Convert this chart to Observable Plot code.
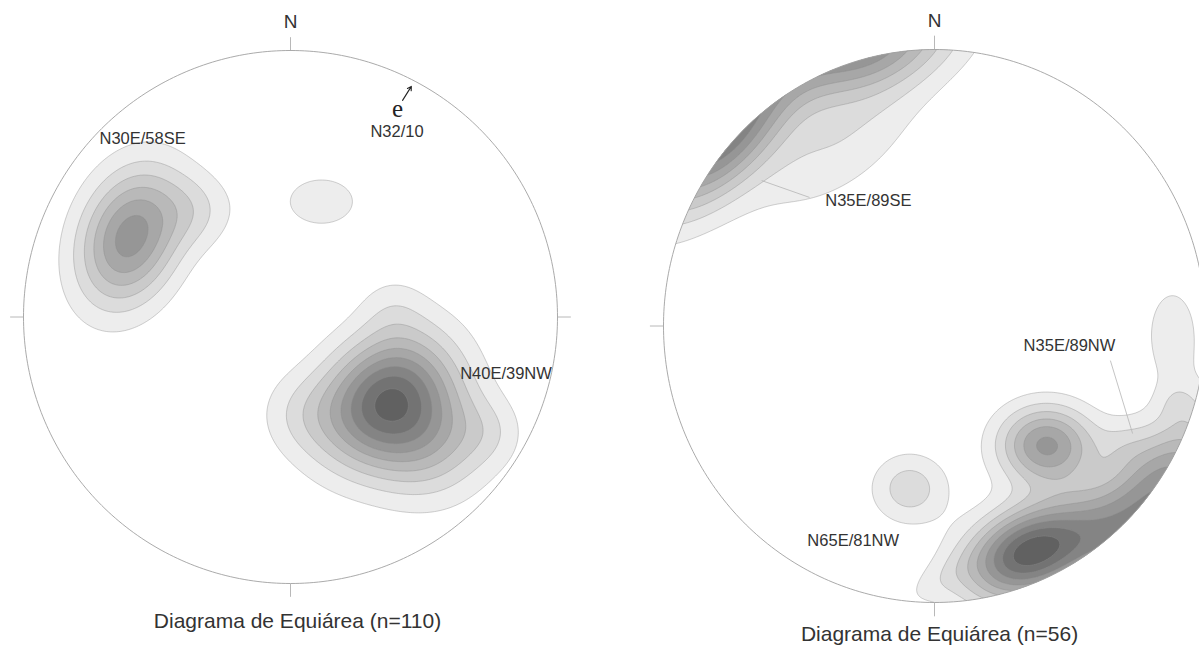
<!DOCTYPE html>
<html>
<head>
<meta charset="utf-8">
<script src="https://cdn.jsdelivr.net/npm/d3@7"></script>
<script src="https://cdn.jsdelivr.net/npm/@observablehq/plot@0.6"></script>
<style>
  html, body { margin: 0; padding: 0; background: #ffffff; }
  #wrap { position: relative; width: 1199px; height: 662px; overflow: hidden; background: #ffffff; }
  #left, #right { position: absolute; top: 0; }
  #left { left: 0; }
  #right { left: 620px; }
</style>
</head>
<body>
<div id="wrap"><div id="left"></div><div id="right"></div></div>
<script>
// ---------- data (net coordinates: x = east, y = north, unit circle = primitive) ----------
const captions = ["Diagrama de Equiárea (n=110)", "Diagrama de Equiárea (n=56)"];
const cardinalNames = ["N", "E", "S", "W"];
const cardinalAzimuths = [0, 90, 180, 270];
const contourLevels = [1, 2, 3, 4, 5, 6, 7, 8, 9, 10];

// left diagram: density concentrations
const leftClusterX = [0.345, 0.51, 0.03, 0.382, 0.749, -0.60, -0.35, 0.116];
const leftClusterY = [-0.30, -0.45, -0.36, 0.039, -0.433, 0.30, 0.40, 0.433];
const leftClusterPeak = [7.6, 4.0, 1.2, 0.9, 1.0, 6.5, 1.5, 1.3];
const leftClusterSpreadMajor = [0.195, 0.165, 0.11, 0.09, 0.09, 0.19, 0.10, 0.16];
const leftClusterSpreadMinor = [0.15, 0.165, 0.11, 0.09, 0.09, 0.13, 0.10, 0.112];
const leftClusterAxis = [45, 0, 0, 0, 0, 70, 0, 0];

const leftLabels = ["N30E/58SE", "N32/10", "N40E/39NW"];
const leftLabelX = [-0.554, 0.399, 0.807];
const leftLabelY = [0.670, 0.696, -0.211];

// lineation "e" (N32/10)
const lineationSymbol = ["e"];
const lineationTrend = [32];
const lineationX = [0.401];
const lineationY = [0.779];

// right diagram
const rightClusterX = [-0.788, -0.274, -0.36, 0.35, 0.844, 0.63, 0.413, -0.092, 0.878, 0.90, 0.70, 0.0];
const rightClusterY = [0.709, 1.024, 0.66, -0.82, -0.591, -0.75, -0.43, -0.588, -0.03, -0.28, -0.43, -0.93];
const rightClusterPeak = [8.5, 7.0, 1.8, 9.5, 6.5, 3.0, 6.2, 2.6, 1.5, 0.9, 1.0, 0.8];
const rightClusterSpreadMajor = [0.25, 0.24, 0.26, 0.17, 0.20, 0.13, 0.125, 0.10, 0.085, 0.05, 0.07, 0.12];
const rightClusterSpreadMinor = [0.12, 0.12, 0.13, 0.11, 0.12, 0.13, 0.10, 0.09, 0.155, 0.05, 0.07, 0.05];
const rightClusterAxis = [48, 15, 35, 22, 55, 0, 0, 0, 0, 0, 0, 30];

const rightLabels = ["N35E/89SE", "N35E/89NW", "N65E/81NW"];
const rightLabelX = [-0.244, 0.498, -0.300];
const rightLabelY = [0.454, -0.0705, -0.778];
const rightLeaderX1 = [-0.461, 0.649];
const rightLeaderY1 = [0.465, -0.125];
const rightLeaderX2 = [-0.638, 0.731];
const rightLeaderY2 = [0.526, -0.389];

// ---------- helpers ----------
function clusters(xs, ys, peaks, sa, sb, ax) {
  return xs.map((x, i) => ({x, y: ys[i], a: peaks[i], su: sa[i], sv: sb[i], t: ax[i] * Math.PI / 180}));
}
function densityField(cs) {
  return (x, y) => {
    let s = 0;
    for (const c of cs) {
      const dx = x - c.x, dy = y - c.y;
      const u = dx * Math.cos(c.t) + dy * Math.sin(c.t);
      const v = -dx * Math.sin(c.t) + dy * Math.cos(c.t);
      s += c.a * Math.exp(-0.5 * ((u / c.su) ** 2 + (v / c.sv) ** 2));
    }
    return s;
  };
}
const primitive = d3.range(0, 361, 1).map(a => ({x: Math.sin(a * Math.PI / 180), y: Math.cos(a * Math.PI / 180)}));
const cardinals = cardinalNames.map((n, i) => {
  const a = cardinalAzimuths[i] * Math.PI / 180;
  return {name: n, x1: Math.sin(a), y1: Math.cos(a), x2: 1.05 * Math.sin(a), y2: 1.05 * Math.cos(a)};
});
const font = "'Liberation Sans', Arial, Helvetica, sans-serif";
const ink = "#333333";

function net({width, xRange, yRange, cs, labels, extra, caption, capDx, capDy, nDy, id}) {
  const svg = Plot.plot({
    width, height: 662, margin: 0,
    style: {fontFamily: font, background: "transparent", overflow: "visible"},
    x: {domain: [-1, 1], range: xRange, axis: null},
    y: {domain: [-1, 1], range: yRange, axis: null},
    color: {type: "linear", domain: [1, 10], range: ["#ededed", "#505050"]},
    marks: [
      Plot.contour({
        x1: -1.12, y1: -1.12, x2: 1.12, y2: 1.12,
        fill: densityField(cs),
        thresholds: contourLevels,
        stroke: "#8c8c8c", strokeWidth: 0.5, strokeOpacity: 0.8,
        pixelSize: 2
      }),
      Plot.line(primitive, {x: "x", y: "y", stroke: "#a0a0a0", strokeWidth: 0.9}),
      Plot.link(cardinals, {x1: "x1", y1: "y1", x2: "x2", y2: "y2", stroke: "#b0b0b0", strokeWidth: 0.9}),
      Plot.text(cardinals.filter(d => d.name === "N"), {x: "x1", y: "y1", text: "name", dy: nDy, fontSize: 19, fill: ink}),
      Plot.text(labels, {x: "x", y: "y", text: "t", fontSize: 16.5, fill: ink}),
      ...extra,
      Plot.text([caption], {x: () => 0, y: () => -1, text: d => d, dx: capDx, dy: capDy, fontSize: 21, fill: ink})
    ]
  });
  // clip density bands to the primitive circle
  const sx = svg.scale("x"), sy = svg.scale("y");
  const ns = "http://www.w3.org/2000/svg";
  const defs = document.createElementNS(ns, "defs");
  const cp = document.createElementNS(ns, "clipPath");
  cp.setAttribute("id", id);
  const el = document.createElementNS(ns, "ellipse");
  el.setAttribute("cx", sx.apply(0));
  el.setAttribute("cy", sy.apply(0));
  el.setAttribute("rx", Math.abs(sx.apply(1) - sx.apply(0)));
  el.setAttribute("ry", Math.abs(sy.apply(1) - sy.apply(0)));
  cp.appendChild(el); defs.appendChild(cp);
  svg.insertBefore(defs, svg.firstChild);
  const g = svg.querySelector('g[aria-label="contour"]');
  if (g) g.setAttribute("clip-path", `url(#${id})`);
  return svg;
}

const leftLabelData = leftLabels.map((t, i) => ({t, x: leftLabelX[i], y: leftLabelY[i]}));
const lin = lineationSymbol.map((t, i) => {
  const a = lineationTrend[i] * Math.PI / 180;
  return {t, x: lineationX[i], y: lineationY[i], x2: lineationX[i] + 0.062 * Math.sin(a), y2: lineationY[i] + 0.062 * Math.cos(a)};
});

document.getElementById("left").appendChild(net({
  width: 620, xRange: [23, 557], yRange: [583, 50],
  cs: clusters(leftClusterX, leftClusterY, leftClusterPeak, leftClusterSpreadMajor, leftClusterSpreadMinor, leftClusterAxis),
  labels: leftLabelData,
  extra: [
    Plot.text(lin, {x: "x", y: "y", text: "t", fontSize: 25, fontFamily: "'Liberation Serif', 'Times New Roman', serif", fill: "#222"}),
    Plot.arrow(lin, {x1: "x", y1: "y", x2: "x2", y2: "y2", dx: 5, dy: -9, stroke: "#222", strokeWidth: 1.1, headLength: 6})
  ],
  caption: captions[0], capDx: 7, capDy: 38, nDy: -29, id: "clipL"
}));

const rightLabelData = rightLabels.map((t, i) => ({t, x: rightLabelX[i], y: rightLabelY[i]}));
const leaders = rightLeaderX1.map((x1, i) => ({x1, y1: rightLeaderY1[i], x2: rightLeaderX2[i], y2: rightLeaderY2[i]}));

document.getElementById("right").appendChild(net({
  width: 579, xRange: [43, 585], yRange: [602, 49],
  cs: clusters(rightClusterX, rightClusterY, rightClusterPeak, rightClusterSpreadMajor, rightClusterSpreadMinor, rightClusterAxis),
  labels: rightLabelData,
  extra: [
    Plot.link(leaders, {x1: "x1", y1: "y1", x2: "x2", y2: "y2", stroke: "#b5b5b5", strokeWidth: 0.8})
  ],
  caption: captions[1], capDx: 5, capDy: 32, nDy: -29, id: "clipR"
}));
</script>
</body>
</html>
